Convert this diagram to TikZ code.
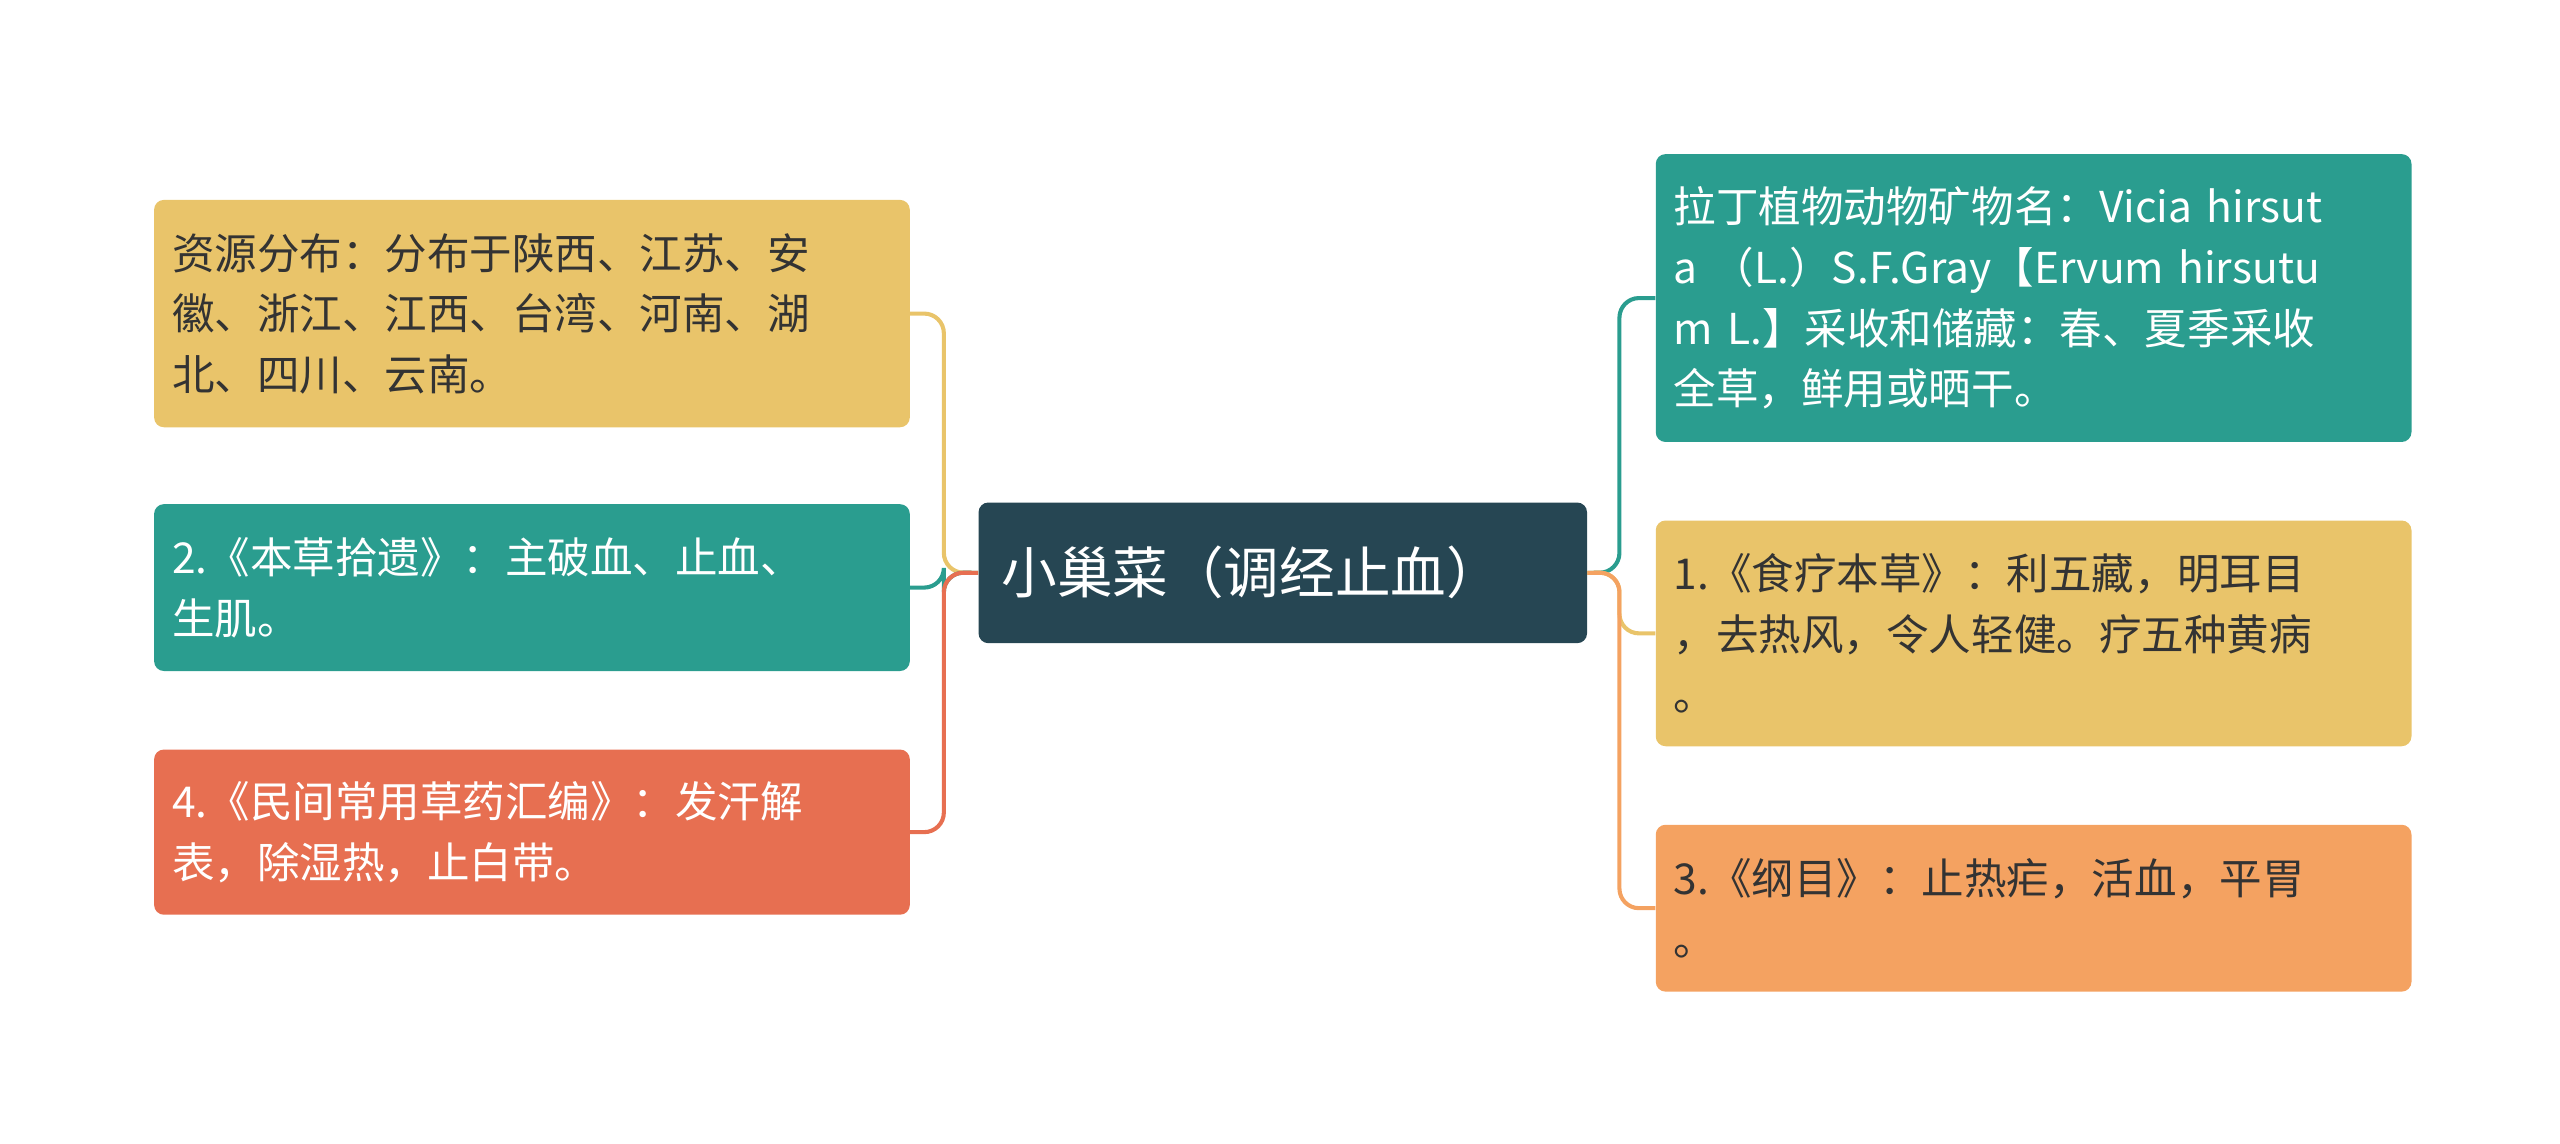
\documentclass[tikz,border=0pt]{standalone}
\usepackage{fontspec}
\setmainfont{Noto Sans CJK SC}
\definecolor{cdark}{HTML}{264653}
\definecolor{cyel}{HTML}{E9C46A}
\definecolor{cteal}{HTML}{2A9D8F}
\definecolor{cred}{HTML}{E76F51}
\definecolor{corg}{HTML}{F4A261}
\definecolor{ctxt}{HTML}{333333}
\begin{document}
\begin{tikzpicture}[x=1pt,y=-1pt,
  box/.style={rectangle,rounded corners=6pt,minimum width=462pt,text width=440pt,inner sep=0pt,align=left,anchor=north west,font=\fontsize{26}{37}\selectfont},
  con/.style={line width=2.5pt,rounded corners=12pt}]
\useasboundingbox (0,0) rectangle (1565,699);
\node[box,fill=cdark,text=white,minimum width=372pt,text width=344pt,minimum height=86pt,font=\fontsize{34}{40}\selectfont] (c) at (598,307) {小巢菜（调经止血）};
\node[box,fill=cyel,text=ctxt,minimum height=139pt] (l1) at (94,122) {资源分布：分布于陕西、江苏、安\\徽、浙江、江西、台湾、河南、湖\\北、四川、云南。};
\node[box,fill=cteal,text=white,minimum height=102pt] (l2) at (94,308) {2.《本草拾遗》：主破血、止血、\\生肌。};
\node[box,fill=cred,text=white,minimum height=101pt] (l3) at (94,458) {4.《民间常用草药汇编》：发汗解\\表，除湿热，止白带。};
\node[box,fill=cteal,text=white,minimum height=176pt] (r1) at (1012,94) {拉丁植物动物矿物名：Vicia hirsut\\a （L.）S.F.Gray【Ervum hirsutu\\m L.】采收和储藏：春、夏季采收\\全草，鲜用或晒干。};
\node[box,fill=cyel,text=ctxt,minimum height=138pt] (r2) at (1012,318) {1.《食疗本草》：利五藏，明耳目\\，去热风，令人轻健。疗五种黄病\\。};
\node[box,fill=corg,text=ctxt,minimum height=102pt] (r3) at (1012,504) {3.《纲目》：止热疟，活血，平胃\\。};
\coordinate (jl) at (577,350);
\coordinate (jr) at (990,350);
\draw[con,cyel] (c.west) -- (jl) |- (l1.east);
\draw[con,cteal] (c.west) -- (jl) |- (l2.east);
\draw[con,cred] (c.west) -- (jl) |- (l3.east);
\draw[con,cteal] (c.east) -- (jr) |- (r1.west);
\draw[con,cyel] (c.east) -- (jr) |- (r2.west);
\draw[con,corg] (c.east) -- (jr) |- (r3.west);
\end{tikzpicture}
\end{document}
